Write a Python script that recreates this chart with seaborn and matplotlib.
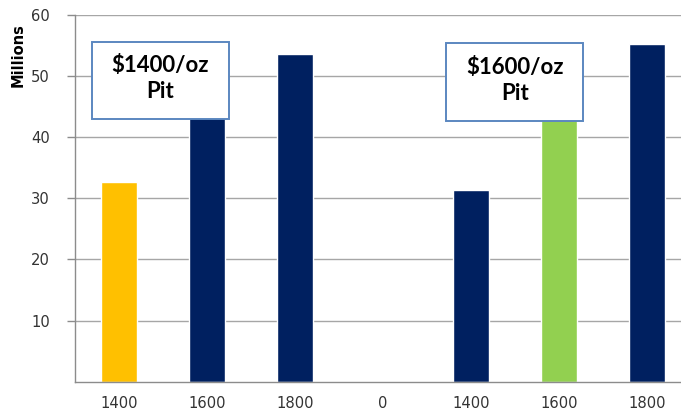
import matplotlib
matplotlib.use("Agg")
import matplotlib.pyplot as plt
from matplotlib.patches import Rectangle
import seaborn as sns
import pandas as pd

# Pit shell results by gold price case
categories = ["1400", "1600", "1800", "0", "1400", "1600", "1800"]
values = [32.6, 47.0, 53.6, 0.0, 31.3, 46.0, 55.3]
bar_colors = ["#FFC000", "#002060", "#002060", "#002060", "#002060", "#92D050", "#002060"]
ytick_values = [10, 20, 30, 40, 50, 60]
box_labels = ["$1400/oz\nPit", "$1600/oz\nPit"]

sns.set_theme(style="white")
plt.rcParams["font.family"] = ["DejaVu Sans"]

df = pd.DataFrame({"pos": list(range(len(categories))), "value": values})

fig = plt.figure(figsize=(6.81, 4.12), dpi=100)
ax = fig.add_axes([0.1101, 0.0735, 0.9046, 0.8901])

sns.barplot(data=df, x="pos", y="value", hue="pos", palette=bar_colors,
            legend=False, width=0.41, saturation=1, ax=ax, zorder=2)

ax.set_ylim(0, 60)
ax.set_xlim(-0.5, len(categories) - 0.5)
ax.set_yticks(ytick_values)
ax.set_yticklabels([str(v) for v in ytick_values], fontsize=10.6, color="#333333")
ax.set_xticks(range(len(categories)))
ax.set_xticklabels(categories, fontsize=10.6, color="#333333")
ax.set_xticks([i - 0.5 for i in range(len(categories) + 1)], minor=True)
ax.tick_params(axis="x", which="major", length=0, pad=10)
ax.tick_params(axis="x", which="minor", length=5, width=1, color="#8C8C8C", direction="out")
ax.tick_params(axis="y", length=6, width=1, color="#8C8C8C", direction="out", left=True, pad=12)
ax.set_xlabel("")
ax.set_ylabel("")

ax.grid(axis="y", color="#A6A6A6", linewidth=1.0, zorder=0)
ax.set_axisbelow(True)
for side in ["top", "right"]:
    ax.spines[side].set_visible(False)
for side in ["left", "bottom"]:
    ax.spines[side].set_color("#8C8C8C")
    ax.spines[side].set_linewidth(1.0)

fig.text(18 / 681, 1 - 55 / 412, "Millions", rotation=90, ha="center", va="center",
         fontsize=10.5, fontweight="bold", color="black")

# Price case call-out boxes
boxes = [(-0.31, 43.0, 1.56, 12.6), (3.716, 42.7, 1.56, 12.7)]
for (x0, y0, w, h), label in zip(boxes, box_labels):
    ax.add_patch(Rectangle((x0, y0), w, h, facecolor="white", edgecolor="#5B87C0",
                           linewidth=1.4, zorder=5, clip_on=False))
    ax.text(x0 + w / 2, y0 + h / 2 + 0.3, label, ha="center", va="center",
            fontsize=16, fontweight="bold", family=["Lato", "DejaVu Sans"],
            linespacing=1.3, zorder=6, color="black")

fig.savefig("out.png", dpi=100)
